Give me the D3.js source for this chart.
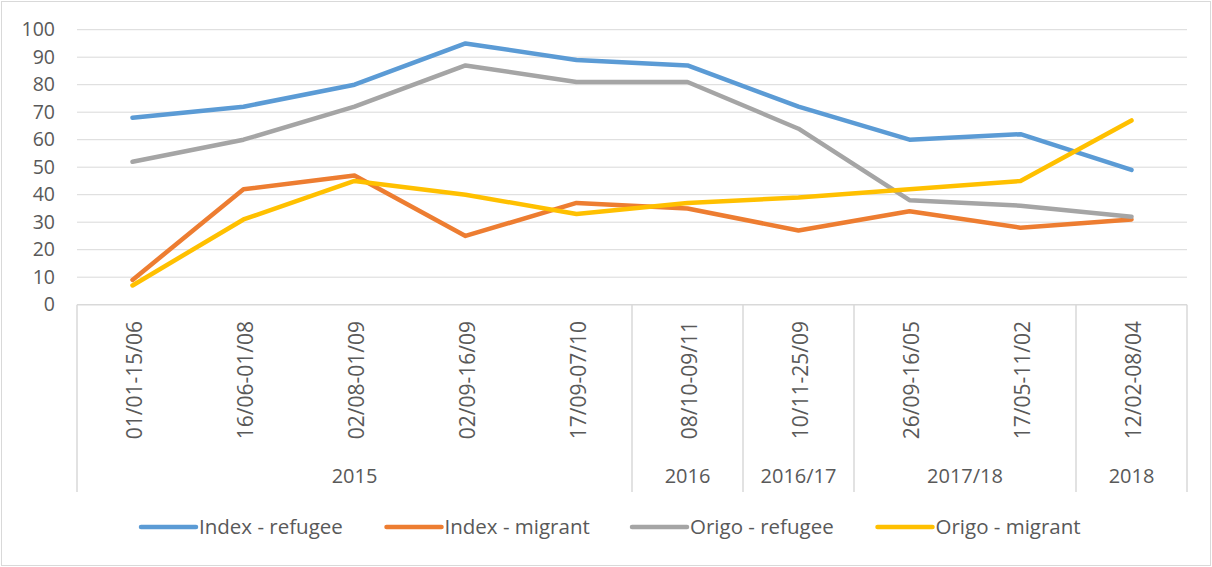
<!DOCTYPE html>
<html>
<head>
<meta charset="utf-8">
<script src="https://cdn.jsdelivr.net/npm/d3@7"></script>
<style>
  body { margin: 0; background: #fff; }
  text { font-family: "Open Sans", sans-serif; fill: #595959; }
</style>
</head>
<body>
<div id="chart"></div>
<script>
// kategorien und gruppen
const categories = ["01/01-15/06", "16/06-01/08", "02/08-01/09", "02/09-16/09", "17/09-07/10",
  "08/10-09/11", "10/11-25/09", "26/09-16/05", "17/05-11/02", "12/02-08/04"];
const groups = ["2015", "2016", "2016/17", "2017/18", "2018"];
const groupSizes = [5, 1, 1, 2, 1];

const seriesNames = ["Index - refugee", "Index - migrant", "Origo - refugee", "Origo - migrant"];
const indexRefugee = [68, 72, 80, 95, 89, 87, 72, 60, 62, 49];
const indexMigrant = [9, 42, 47, 25, 37, 35, 27, 34, 28, 31];
const origoRefugee = [52, 60, 72, 87, 81, 81, 64, 38, 36, 32];
const origoMigrant = [7, 31, 45, 40, 33, 37, 39, 42, 45, 67];
const yTicks = [0, 10, 20, 30, 40, 50, 60, 70, 80, 90, 100];

const colors = ["#5B9BD5", "#ED7D31", "#A5A5A5", "#FFC000"];
const allSeries = [indexRefugee, indexMigrant, origoRefugee, origoMigrant];

const W = 1212, H = 567;
const plotLeft = 77, plotRight = 1187, plotTop = 29.7, plotBottom = 304.7;

const svg = d3.select("#chart").append("svg")
  .attr("width", W)
  .attr("height", H);

// rahmen
svg.append("rect")
  .attr("x", 1.5).attr("y", 1.5)
  .attr("width", W - 3).attr("height", H - 3)
  .attr("fill", "none")
  .attr("stroke", "#d9d9d9")
  .attr("stroke-width", 1);

const x = d3.scaleBand().domain(categories).range([plotLeft, plotRight]);
const y = d3.scaleLinear().domain([0, 100]).range([plotBottom, plotTop]);

// gitternetz
svg.append("g")
  .selectAll("line")
  .data(yTicks.filter(d => d > 0))
  .enter().append("line")
  .attr("x1", plotLeft).attr("x2", plotRight)
  .attr("y1", d => y(d)).attr("y2", d => y(d))
  .attr("stroke", "#d9d9d9")
  .attr("stroke-width", 1);

// y achse
const yAxis = svg.append("g")
  .attr("transform", `translate(${plotLeft},0)`)
  .call(d3.axisLeft(y).tickValues(yTicks).tickSize(0).tickPadding(22));
yAxis.select(".domain").remove();
yAxis.selectAll("text")
  .style("font-family", "Open Sans, sans-serif")
  .style("font-size", "19.5px")
  .attr("fill", "#595959");

// x achse linie
svg.append("line")
  .attr("x1", plotLeft).attr("x2", plotRight)
  .attr("y1", plotBottom).attr("y2", plotBottom)
  .attr("stroke", "#d9d9d9")
  .attr("stroke-width", 1.5);

// gruppen grenzen
const bounds = [0];
groupSizes.forEach(s => bounds.push(bounds[bounds.length - 1] + s));
const bx = i => plotLeft + i * x.bandwidth();

svg.append("g")
  .selectAll("line")
  .data(bounds)
  .enter().append("line")
  .attr("x1", d => bx(d)).attr("x2", d => bx(d))
  .attr("y1", plotBottom).attr("y2", 492)
  .attr("stroke", "#d9d9d9")
  .attr("stroke-width", 1.5);

// kategorie beschriftungen
svg.append("g")
  .selectAll("text")
  .data(categories)
  .enter().append("text")
  .attr("transform", d => `translate(${x(d) + x.bandwidth() / 2},321) rotate(-90)`)
  .attr("text-anchor", "end")
  .attr("dy", "0.45em")
  .style("font-size", "21px")
  .text(d => d);

// gruppen beschriftungen
svg.append("g")
  .selectAll("text")
  .data(groups)
  .enter().append("text")
  .attr("x", (d, i) => (bx(bounds[i]) + bx(bounds[i + 1])) / 2)
  .attr("y", 483)
  .attr("text-anchor", "middle")
  .style("font-size", "20px")
  .text(d => d);

// linien
const line = d3.line()
  .x((d, i) => x(categories[i]) + x.bandwidth() / 2)
  .y(d => y(d));

svg.append("g")
  .selectAll("path")
  .data(allSeries)
  .enter().append("path")
  .attr("d", line)
  .attr("fill", "none")
  .attr("stroke", (d, i) => colors[i])
  .attr("stroke-width", 4.5)
  .attr("stroke-linecap", "round")
  .attr("stroke-linejoin", "round");

// legende
const legend = svg.append("g")
  .selectAll("g")
  .data(seriesNames)
  .enter().append("g")
  .attr("transform", (d, i) => `translate(${141 + i * 245.5},527)`);

legend.append("line")
  .attr("x1", 0).attr("x2", 55)
  .attr("stroke", (d, i) => colors[i])
  .attr("stroke-width", 4.5)
  .attr("stroke-linecap", "round");

legend.append("text")
  .attr("x", 58)
  .attr("dy", "0.35em")
  .style("font-size", "20.5px")
  .text(d => d);
</script>
</body>
</html>
